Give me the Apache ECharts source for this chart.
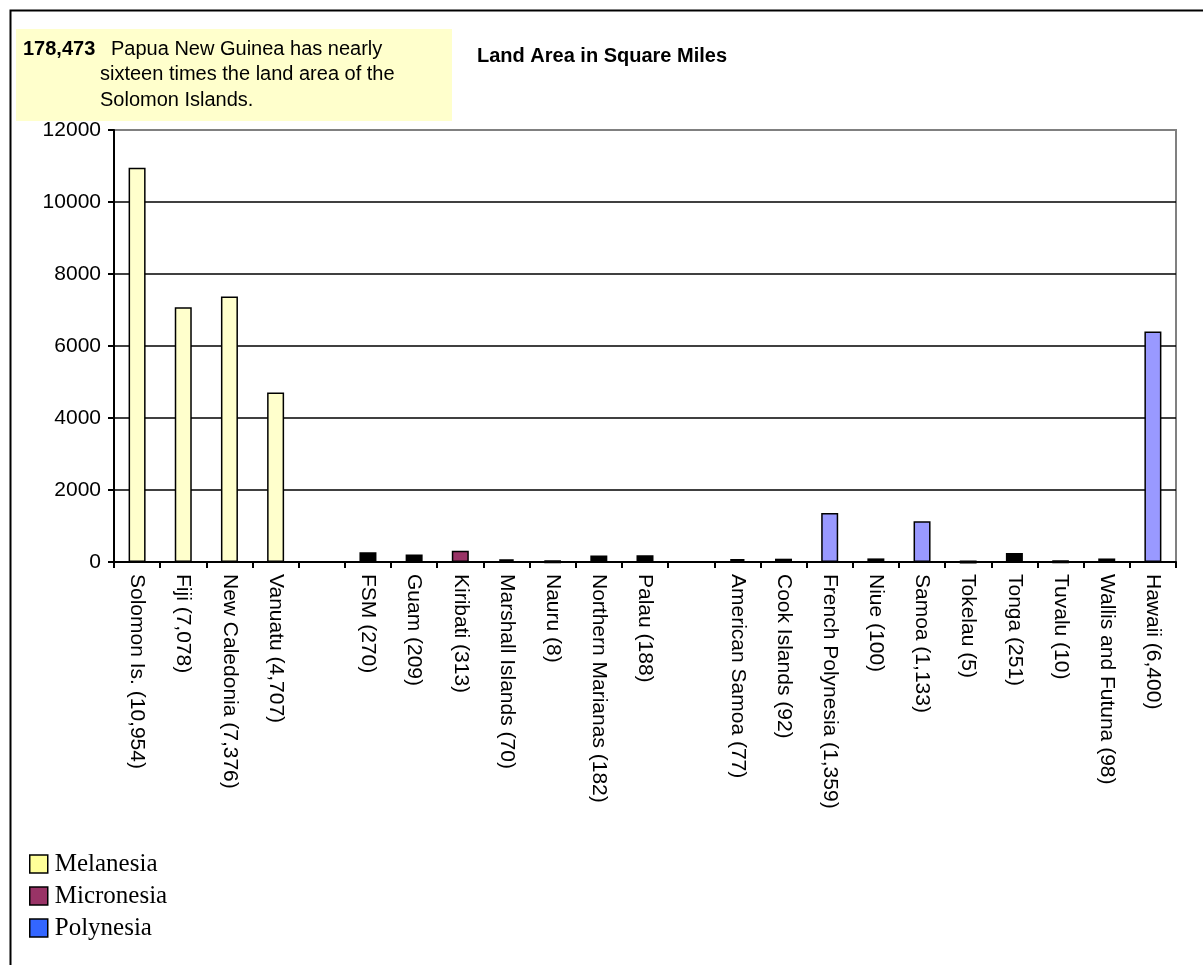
<!DOCTYPE html>
<html>
<head>
<meta charset="utf-8">
<script src="https://cdn.jsdelivr.net/npm/echarts@6/dist/echarts.min.js"></script>
<style>
  html, body { margin: 0; padding: 0; background: #fff; }
  #chart { width: 1203px; height: 965px; }
</style>
</head>
<body>
<div id="chart"></div>
<script>
// ---- data ----
const names = ['Solomon Is.', 'Fiji', 'New Caledonia', 'Vanuatu', '',
  'FSM', 'Guam', 'Kiribati', 'Marshall Islands', 'Nauru', 'Northern Marianas', 'Palau', '',
  'American Samoa', 'Cook Islands', 'French Polynesia', 'Niue', 'Samoa', 'Tokelau', 'Tonga', 'Tuvalu', 'Wallis and Futuna', 'Hawaii'];
const values = [10954, 7078, 7376, 4707, null,
  270, 209, 313, 70, 8, 182, 188, null,
  77, 92, 1359, 100, 1133, 5, 251, 10, 98, 6400];
const regions = ['Melanesia', 'Melanesia', 'Melanesia', 'Melanesia', '',
  'Micronesia', 'Micronesia', 'Micronesia', 'Micronesia', 'Micronesia', 'Micronesia', 'Micronesia', '',
  'Polynesia', 'Polynesia', 'Polynesia', 'Polynesia', 'Polynesia', 'Polynesia', 'Polynesia', 'Polynesia', 'Polynesia', 'Polynesia'];
const regionNames = ['Melanesia', 'Micronesia', 'Polynesia'];
const yTicks = [0, 2000, 4000, 6000, 8000, 10000, 12000];
const noteValue = '178,473';
const noteLines = ['Papua New Guinea has nearly', 'sixteen times the land area of the', 'Solomon Islands.'];
const titleText = 'Land Area in Square Miles';

// ---- styles ----
const legendColors = { Melanesia: '#FFFF99', Micronesia: '#993366', Polynesia: '#3366FF' };
const barColors = { Melanesia: '#FFFFCC', Micronesia: '#993366', Polynesia: '#9999FF' };
const tintedBars = ['Kiribati', 'French Polynesia', 'Samoa', 'Hawaii'];
const FONT = "'Liberation Sans', Arial, sans-serif";

const labels = names.map((n, i) => n ? `${n} (${values[i].toLocaleString('en-US')})` : '');

const series = regionNames.map(r => ({
  name: r,
  type: 'bar',
  barWidth: 17,
  barGap: '-100%',
  itemStyle: { color: legendColors[r], borderColor: '#000', borderWidth: 1.5 },
  data: values.map((v, i) => {
    if (regions[i] !== r || v == null) return null;
    const tinted = r === 'Melanesia' || tintedBars.includes(names[i]);
    return {
      value: v,
      itemStyle: tinted
        ? { color: barColors[r], borderColor: '#000', borderWidth: 1.5 }
        : { color: '#000', borderColor: '#000', borderWidth: 3 }
    };
  })
}));

const chart = echarts.init(document.getElementById('chart'), null, { renderer: 'canvas' });
chart.setOption({
  animation: false,
  backgroundColor: '#fff',
  grid: { left: 114, right: 27, top: 130, bottom: 403, show: true, borderColor: '#808080', borderWidth: 2, backgroundColor: 'transparent' },
  legend: {
    orient: 'vertical', left: 24, top: 846,
    itemWidth: 18, itemHeight: 18, itemGap: 6,
    data: regionNames,
    icon: 'rect',
    itemStyle: { borderColor: '#000', borderWidth: 1.5 },
    textStyle: { fontFamily: "'Liberation Serif', 'Times New Roman', serif", fontSize: 25, color: '#000', lineHeight: 26, padding: [0, 0, 0, 2] }
  },
  xAxis: {
    type: 'category',
    data: labels,
    boundaryGap: true,
    axisLine: { lineStyle: { color: '#000', width: 2 } },
    axisTick: { show: true, alignWithLabel: false, interval: 0, length: 6, lineStyle: { color: '#000', width: 2 } },
    axisLabel: { interval: 0, rotate: -90, margin: 12, fontFamily: FONT, fontSize: 21, color: '#000' }
  },
  yAxis: {
    type: 'value',
    min: yTicks[0], max: yTicks[yTicks.length - 1], interval: yTicks[1] - yTicks[0],
    axisLine: { show: true, lineStyle: { color: '#000', width: 2 } },
    axisTick: { show: true, length: 6, lineStyle: { color: '#000', width: 2 } },
    axisLabel: { margin: 13, fontFamily: FONT, fontSize: 21, color: '#000', formatter: v => String(v) },
    splitLine: { show: true, lineStyle: { color: ['#000', '#000', '#000', '#000', '#000', '#000', '#808080'], width: 1.5 } }
  },
  series: series,
  graphic: [
    { type: 'rect', left: 8, top: 8, shape: { x: 0, y: 0, width: 1300, height: 1100 }, style: { fill: 'none', stroke: '#000', lineWidth: 2 }, silent: true, z: -10 },
    { type: 'rect', left: 16, top: 29, shape: { x: 0, y: 0, width: 436, height: 92 }, style: { fill: '#FFFFCC' }, z: 10 },
    { type: 'text', x: 23, y: 49, style: { text: noteValue, font: `bold 20px ${FONT}`, fill: '#000', textVerticalAlign: 'middle' }, z: 11 },
    { type: 'text', x: 111, y: 49, style: { text: noteLines[0], font: `20px ${FONT}`, fill: '#000', textVerticalAlign: 'middle' }, z: 11 },
    { type: 'text', x: 100, y: 74, style: { text: noteLines[1], font: `20px ${FONT}`, fill: '#000', textVerticalAlign: 'middle' }, z: 11 },
    { type: 'text', x: 100, y: 100, style: { text: noteLines[2], font: `20px ${FONT}`, fill: '#000', textVerticalAlign: 'middle' }, z: 11 },
    { type: 'text', x: 477, y: 56, style: { text: titleText, font: `bold 20px ${FONT}`, fill: '#000', textVerticalAlign: 'middle' }, z: 11 }
  ]
});
</script>
</body>
</html>
